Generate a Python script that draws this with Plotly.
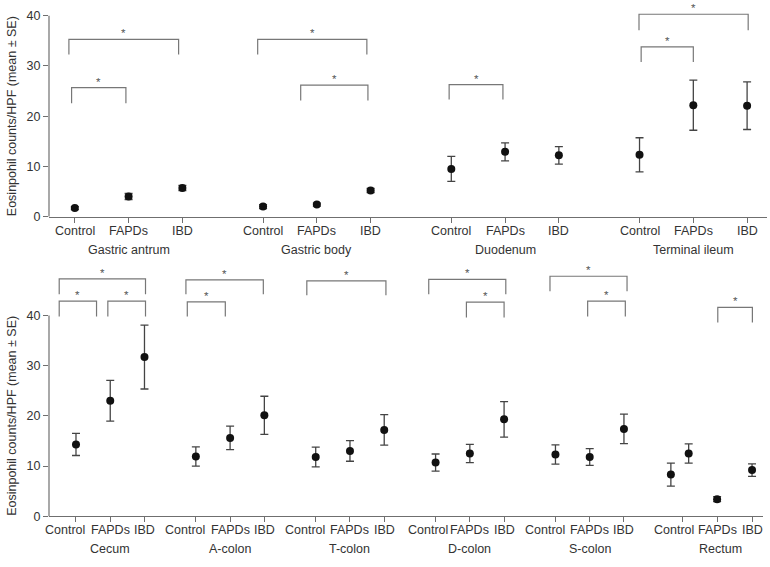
import plotly.graph_objects as go

# ---------------- data ----------------
conditions = ["Control", "FAPDs", "IBD"]

top_groups = ["Gastric antrum", "Gastric body", "Duodenum", "Terminal ileum"]
top_mean = [[1.7, 4.0, 5.7], [2.0, 2.4, 5.2], [9.5, 12.9, 12.2], [12.3, 22.2, 22.1]]
top_se = [[0.3, 0.6, 0.5], [0.4, 0.3, 0.4], [2.5, 1.8, 1.75], [3.4, 5.0, 4.75]]

bottom_groups = ["Cecum", "A-colon", "T-colon", "D-colon", "S-colon", "Rectum"]
bottom_mean = [[14.3, 23.0, 31.7], [11.9, 15.6, 20.1], [11.8, 13.0, 17.2],
               [10.7, 12.5, 19.3], [12.3, 11.8, 17.4], [8.3, 12.5, 3.4, 9.2]]
bottom_se = [[2.2, 4.05, 6.35], [1.9, 2.35, 3.8], [1.95, 2.05, 3.05],
             [1.7, 1.8, 3.55], [1.9, 1.65, 2.95], [2.3, 1.9, 0.5, 1.25]]

# significance brackets: (x_left, x_right, y_top, y_drop) in axis units
top_brackets = [(-0.11, 1.93, 35.3, 32.3), (-0.06, 0.95, 25.7, 22.6),
                (3.40, 5.43, 35.3, 32.3), (4.20, 5.45, 26.2, 23.1),
                (6.96, 7.96, 26.3, 23.3),
                (10.49, 12.52, 40.3, 37.1), (10.53, 11.50, 33.8, 30.8)]
bottom_brackets = [(-0.49, 2.03, 47.3, 44.2), (-0.49, 0.60, 42.85, 39.8), (0.93, 2.03, 42.85, 39.8),
                   (3.21, 5.47, 47.1, 44.2), (3.25, 4.36, 42.7, 39.8),
                   (6.74, 9.05, 46.9, 44.0),
                   (10.30, 12.55, 47.2, 44.2), (11.40, 12.50, 42.65, 39.6),
                   (13.84, 16.09, 47.8, 44.8), (14.94, 16.04, 42.85, 39.8),
                   (18.74, 19.75, 41.6, 38.6)]

y_ticks = [0, 10, 20, 30, 40]
y_title = "Eosinpohil counts/HPF (mean ± SE)"

# ---------------- layout geometry ----------------
W, H = 770, 567
FONT = "Liberation Sans, Arial, sans-serif"
TXT = "#333333"
AX = "#6f6f6f"
BR = "#777777"

top_dom = [1 - 219.3 / H, 1 - 5.8 / H]
bot_dom = [1 - 522.7 / H, 1 - 268.55 / H]
top_yr = [0, 42]
bot_yr = [0, 50]
top_xr = [-0.48, 12.87]
bot_xr = [-0.788, 20.06]

top_bases = [g * 3.5 for g in range(4)]
bot_bases = [g * 3.5 for g in range(5)] + [17.72]

top_ticks = [b + i for b in top_bases for i in range(3)]
bot_ticks = [b + i for b in bot_bases[:5] for i in range(3)] + [17.72, 18.72, 19.74]

top_px, top_py, top_pe = [], [], []
for g, b in enumerate(top_bases):
    for i, (m, s) in enumerate(zip(top_mean[g], top_se[g])):
        top_px.append(b + i); top_py.append(m); top_pe.append(s)

bot_px, bot_py, bot_pe = [], [], []
rect_offsets = [-0.35, 0.17, 1.0, 2.02]
for g, b in enumerate(bot_bases):
    offs = rect_offsets if len(bottom_mean[g]) == 4 else [0, 1, 2]
    for o, m, s in zip(offs, bottom_mean[g], bottom_se[g]):
        bot_px.append(b + o); bot_py.append(m); bot_pe.append(s)

fig = go.Figure()
for xs, ys, es, xa, ya in [(top_px, top_py, top_pe, "x", "y"), (bot_px, bot_py, bot_pe, "x2", "y2")]:
    fig.add_trace(go.Scatter(
        x=xs, y=ys, mode="markers", xaxis=xa, yaxis=ya,
        marker=dict(size=8, color="#111111"),
        error_y=dict(type="data", array=es, visible=True, color="#444444", thickness=1.3, width=4),
        showlegend=False, hoverinfo="skip"))

axis_common = dict(showgrid=False, zeroline=False, ticks="outside", ticklen=5,
                   tickcolor=AX, tickwidth=1)
fig.update_layout(
    width=W, height=H, autosize=False,
    margin=dict(l=0, r=0, t=0, b=0),
    paper_bgcolor="white", plot_bgcolor="white",
    font=dict(family=FONT, size=12.5, color=TXT),
    xaxis=dict(domain=[49 / W, 767 / W], range=top_xr, anchor="y", tickvals=top_ticks,
               showticklabels=False, showline=True, linecolor=AX, linewidth=1.2, **axis_common),
    yaxis=dict(domain=top_dom, range=top_yr, anchor="x", tickvals=y_ticks,
               showline=False, tickfont=dict(size=12.5, color=TXT), **axis_common),
    xaxis2=dict(domain=[49 / W, 763 / W], range=bot_xr, anchor="y2", tickvals=bot_ticks,
                showticklabels=False, showline=True, linecolor=AX, linewidth=1.2, **axis_common),
    yaxis2=dict(domain=bot_dom, range=bot_yr, anchor="x2", tickvals=y_ticks,
                showline=False, tickfont=dict(size=12.5, color=TXT), **axis_common),
)

shapes = []
annots = []

def ypaper(dom, yr, v):
    return dom[0] + (v - yr[0]) / (yr[1] - yr[0]) * (dom[1] - dom[0])

# y axis lines (0 to 40 only) and y titles
for dom, yr in [(top_dom, top_yr), (bot_dom, bot_yr)]:
    shapes.append(dict(type="line", xref="paper", yref="paper", x0=49 / W, x1=49 / W,
                       y0=ypaper(dom, yr, 0), y1=ypaper(dom, yr, 40),
                       line=dict(color=AX, width=1.2)))
    annots.append(dict(text=y_title, xref="paper", yref="paper", x=12 / W,
                       y=ypaper(dom, yr, 20), textangle=-90, showarrow=False,
                       xanchor="center", yanchor="middle", font=dict(size=12.5, color=TXT)))

# brackets
for brs, xr, yr_ in [(top_brackets, "x", "y"), (bottom_brackets, "x2", "y2")]:
    for x0, x1, yt, yd in brs:
        shapes.append(dict(type="path", xref=xr, yref=yr_,
                           path=f"M {x0},{yd} L {x0},{yt} L {x1},{yt} L {x1},{yd}",
                           line=dict(color=BR, width=1.2)))
        annots.append(dict(text="*", xref=xr, yref=yr_, x=(x0 + x1) / 2, y=yt,
                           showarrow=False, yanchor="middle", yshift=6,
                           font=dict(size=11.5, color="#555555")))

# category tick labels and group labels
for g, b in enumerate(top_bases):
    for i, c in enumerate(conditions):
        annots.append(dict(text=c, xref="x", yref="paper", x=b + i, y=top_dom[0],
                           showarrow=False, yanchor="middle", yshift=-14))
    annots.append(dict(text=top_groups[g], xref="x", yref="paper", x=b + 1, y=top_dom[0],
                       showarrow=False, yanchor="middle", yshift=-33))

ctrl_shift = [-11, -11, -10.5, -8, -10.5, -9]
grp_shift = [0, 0, 0, 0, 0, 3]
rect_ticks = [17.72, 18.72, 19.74]
for g, b in enumerate(bot_bases):
    tks = rect_ticks if g == 5 else [b, b + 1, b + 2]
    for i, c in enumerate(conditions):
        annots.append(dict(text=c, xref="x2", yref="paper", x=tks[i], y=bot_dom[0],
                           showarrow=False, yanchor="middle", yshift=-14,
                           xshift=ctrl_shift[g] if i == 0 else 0))
    annots.append(dict(text=bottom_groups[g], xref="x2", yref="paper", x=tks[1], y=bot_dom[0],
                       showarrow=False, yanchor="middle", yshift=-33, xshift=grp_shift[g]))

fig.update_layout(shapes=shapes, annotations=annots)
fig.write_html("out.html", config={"displayModeBar": False},
               post_script="document.body.style.margin='0px';document.body.style.overflow='hidden';")
